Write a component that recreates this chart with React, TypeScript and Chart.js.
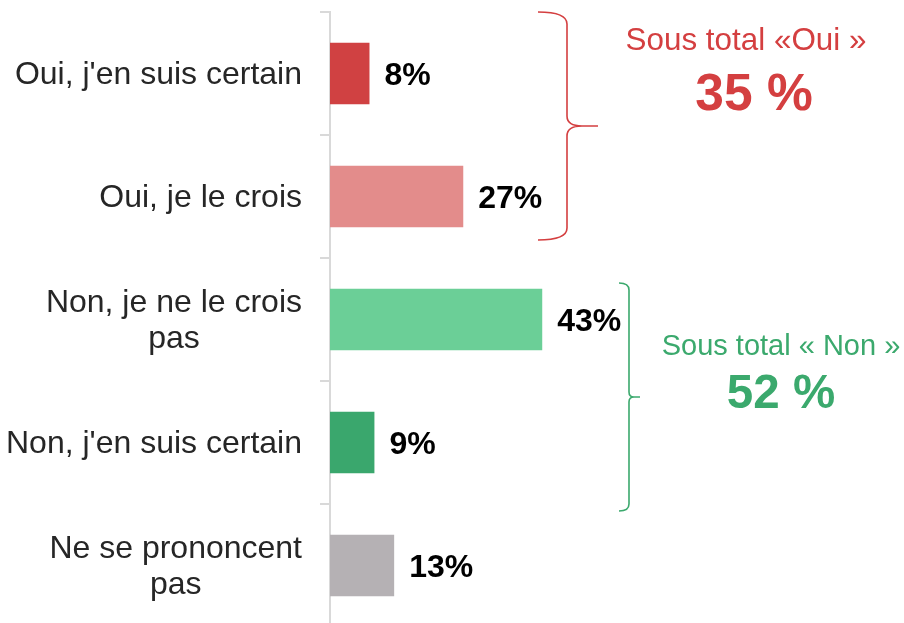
import React, { useEffect, useRef } from "react";
import { Chart, registerables } from "chart.js";

Chart.register(...registerables);

const categories: string[][] = [
  ["Oui, j'en suis certain"],
  ["Oui, je le crois"],
  ["Non, je ne le crois", "pas"],
  ["Non, j'en suis certain"],
  ["Ne se prononcent", "pas"],
];
const values: number[] = [8, 27, 43, 9, 13];
const valueLabels: string[] = ["8%", "27%", "43%", "9%", "13%"];
const barColors: string[] = ["#D04142", "#E38C8B", "#6BCF97", "#3AA76D", "#B5B1B4"];

const ouiTitle = "Sous total «Oui »";
const ouiTotal = "35 %";
const nonTitle = "Sous total « Non »";
const nonTotal = "52 %";
const RED = "#D43F40";
const GREEN = "#3BA96D";
const FONT = "'Liberation Sans', Arial, sans-serif";

const overlayPlugin = {
  id: "overlay",
  afterDraw(chart: any) {
    const ctx = chart.ctx as CanvasRenderingContext2D;
    const y = chart.scales.y;
    const x = chart.scales.x;
    ctx.save();
    // category labels
    ctx.font = `32px ${FONT}`;
    ctx.fillStyle = "#262626";
    ctx.textBaseline = "alphabetic";
    categories.forEach((lines, i) => {
      const cy = y.getPixelForValue(i);
      const widest = Math.max(...lines.map((l) => ctx.measureText(l).width));
      const right = 302;
      const cx = right - widest / 2;
      ctx.textAlign = "center";
      lines.forEach((l, k) => {
        const by = cy + 10 + (k - (lines.length - 1) / 2) * 36;
        ctx.fillText(l, cx, by);
      });
    });
    // value labels
    ctx.font = `bold 32px ${FONT}`;
    ctx.fillStyle = "#000000";
    ctx.textAlign = "left";
    values.forEach((v, i) => {
      const cy = y.getPixelForValue(i);
      const px = x.getPixelForValue(v);
      ctx.fillText(valueLabels[i], px + 15, cy + 11);
    });
    // braces
    ctx.lineWidth = 1.6;
    ctx.strokeStyle = RED;
    ctx.beginPath();
    ctx.moveTo(538, 12);
    ctx.quadraticCurveTo(567, 12, 567, 24);
    ctx.lineTo(567, 116);
    ctx.quadraticCurveTo(567, 126, 582, 126);
    ctx.lineTo(598, 126);
    ctx.moveTo(582, 126);
    ctx.quadraticCurveTo(567, 126, 567, 136);
    ctx.lineTo(567, 228);
    ctx.quadraticCurveTo(567, 240, 538, 240);
    ctx.stroke();

    ctx.strokeStyle = GREEN;
    ctx.beginPath();
    ctx.moveTo(619, 283);
    ctx.quadraticCurveTo(629, 283, 629, 290);
    ctx.lineTo(629, 392);
    ctx.quadraticCurveTo(629, 397, 634, 397);
    ctx.lineTo(640, 397);
    ctx.moveTo(634, 397);
    ctx.quadraticCurveTo(629, 397, 629, 402);
    ctx.lineTo(629, 504);
    ctx.quadraticCurveTo(629, 511, 619, 511);
    ctx.stroke();

    // subtotal texts
    ctx.textAlign = "center";
    ctx.fillStyle = RED;
    ctx.font = `31.4px ${FONT}`;
    ctx.fillText(ouiTitle, 746, 50);
    ctx.font = `bold 51.5px ${FONT}`;
    ctx.fillText(ouiTotal, 754, 110);
    ctx.fillStyle = GREEN;
    ctx.font = `29px ${FONT}`;
    ctx.fillText(nonTitle, 781, 355);
    ctx.font = `bold 47.5px ${FONT}`;
    ctx.fillText(nonTotal, 781, 408);
    ctx.restore();
  },
};

export default function App() {
  const ref = useRef<HTMLCanvasElement>(null);
  useEffect(() => {
    if (!ref.current) return;
    const chart = new Chart(ref.current, {
      type: "bar",
      data: {
        labels: categories.map((c) => c.join(" ")),
        datasets: [
          {
            data: values,
            backgroundColor: barColors,
            barPercentage: 0.5,
            categoryPercentage: 1,
          },
        ],
      },
      options: {
        indexAxis: "y",
        animation: false,
        responsive: true,
        maintainAspectRatio: false,
        layout: { padding: { top: 12, right: 0, bottom: 0, left: 0 } },
        plugins: { legend: { display: false }, tooltip: { enabled: false } },
        scales: {
          x: { display: false, min: 0, max: 116.3 },
          y: {
            position: "left",
            afterFit: (scale: any) => {
              scale.width = 330;
            },
            ticks: { display: false },
            grid: {
              display: true,
              drawOnChartArea: false,
              drawTicks: true,
              tickLength: 10,
              color: "#D9D9D9",
              lineWidth: 2,
              offset: true,
            },
            border: { display: true, color: "#D9D9D9", width: 2 },
          },
        },
      },
      plugins: [overlayPlugin],
    });
    return () => chart.destroy();
  }, []);
  return (
    <div style={{ position: "fixed", left: 0, top: 0, width: 904, height: 627, background: "#fff" }}>
      <canvas ref={ref} />
    </div>
  );
}
